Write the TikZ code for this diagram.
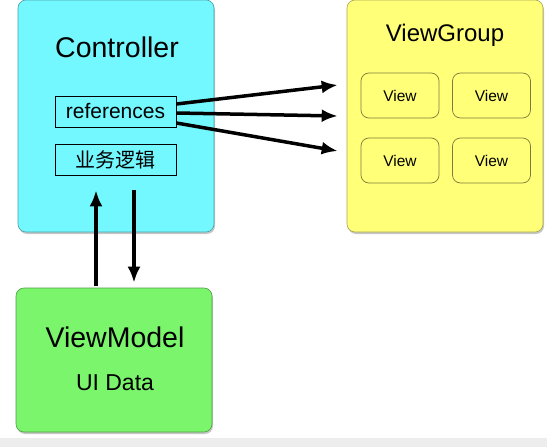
\documentclass[tikz,border=0pt]{standalone}
\usepackage{fontspec}
\setmainfont{Liberation Sans}
\newfontfamily\cjk{Noto Sans CJK SC}
\usepackage{tikz}
\usepackage{xcolor}
\usetikzlibrary{arrows.meta,positioning,shadows}
\tikzset{%
  flow/.style={line width=3.5pt,-{Latex[length=16pt,width=13pt]}},
  panel/.style={rectangle,rounded corners=8pt,draw=#1!65!black,fill=#1,
    line width=0.6pt,inner sep=0pt,
    drop shadow={shadow xshift=1pt,shadow yshift=-2pt,opacity=0.45}},
  title/.style={font=\fontsize{28.5}{32}\selectfont},
}
\definecolor{ctrlcyan}{HTML}{73F8FF}
\definecolor{groupyellow}{HTML}{FFFF78}
\definecolor{modelgreen}{HTML}{7AF56C}
\definecolor{olive}{HTML}{7E7A3A}

\begin{document}
\begin{tikzpicture}[x=1pt,y=-1pt,
    field/.style={rectangle,draw,line width=0.8pt,minimum width=121pt,
      minimum height=31pt,inner sep=0pt},
    view/.style={rectangle,rounded corners=8pt,draw=olive,fill=groupyellow,
      line width=0.7pt,minimum width=78pt,minimum height=45pt,
      font=\fontsize{15.5}{17}\selectfont}]
    \useasboundingbox (0,0) rectangle (547,447);
    \fill[black!7] (0,438) rectangle (547,447);

    \node[panel=ctrlcyan,minimum width=196pt,minimum height=232pt] (ctrl) at (116,116) {};
    \node[panel=groupyellow,minimum width=196pt,minimum height=232pt] (vgroup) at (445,116) {};
    \node[panel=modelgreen,minimum width=196pt,minimum height=144pt] (vmodel) at (114,360) {};

    \node[title] (ctrltitle) at (117,47) {Controller};
    \node[field,font=\fontsize{21}{23}\selectfont] (refs) at (115.5,111.5) {references};
    \node[field,font=\cjk\fontsize{20}{23}\selectfont] (logic) at (115.5,159.5) {业务逻辑};

    \node[font=\fontsize{24}{27}\selectfont] (grouptitle) at (445,35) {ViewGroup};
    \foreach \row/\y in {1/95.5,2/160.5}
      \foreach \col/\x in {1/400,2/491.5}
        \node[view] (v\row\col) at (\x,\y) {View};

    \node[title] (modeltitle) at (115,337) {ViewModel};
    \node[font=\fontsize{23}{26}\selectfont] (uidata) at (115,383) {UI Data};

    \draw[flow] ([yshift=7.5pt]refs.east) -- ([xshift=-9pt,yshift=31pt]vgroup.west);
    \draw[flow] ([yshift=-1.5pt]refs.east) -- ([xshift=-9pt]vgroup.west);
    \draw[flow] ([yshift=-11.5pt]refs.east) -- ([xshift=-9pt,yshift=-35pt]vgroup.west);

    \draw[flow] ([xshift=-18pt,yshift=2pt]vmodel.north) -- ([xshift=-20pt,yshift=42pt]ctrl.south);
    \draw[flow] ([xshift=18pt,yshift=42pt]ctrl.south) -- ([xshift=20pt,yshift=5pt]vmodel.north);
  \end{tikzpicture}
\end{document}
